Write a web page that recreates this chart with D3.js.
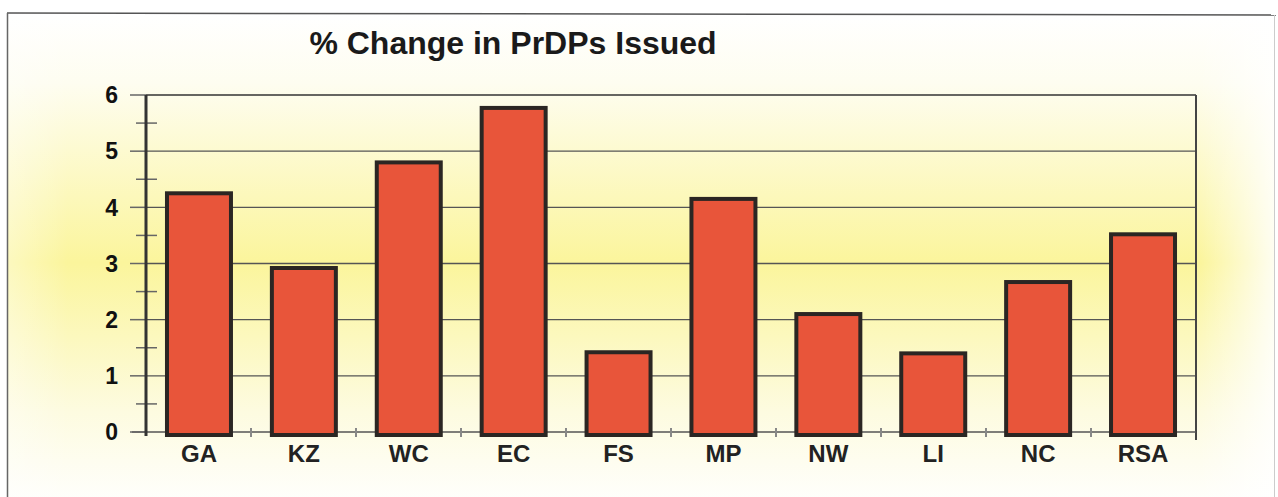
<!DOCTYPE html>
<html><head><meta charset="utf-8">
<script src="https://cdn.jsdelivr.net/npm/d3@7"></script>
<style>body{margin:0;background:#fff}svg{display:block}</style>
</head><body>
<svg id="c" width="1278" height="497"></svg>
<script>
const categories = ["GA","KZ","WC","EC","FS","MP","NW","LI","NC","RSA"];
const values = [4.25, 2.92, 4.8, 5.77, 1.42, 4.15, 2.1, 1.4, 2.67, 3.52];
const yTicks = [0,1,2,3,4,5,6];
const title = "% Change in PrDPs Issued";

const svg = d3.select("#c");
const W = 1278, H = 497;
const m = {left:146, right:1196, top:95, bottom:432};
const FONT = "'Liberation Sans', Arial, sans-serif";
const defs = svg.append("defs");
const g1 = defs.append("linearGradient").attr("id","bg").attr("x1",0).attr("y1",0).attr("x2",0).attr("y2",1);
g1.append("stop").attr("offset","0%").attr("stop-color","#ffffff");
g1.append("stop").attr("offset","14%").attr("stop-color","#fefdf0");
g1.append("stop").attr("offset","50%").attr("stop-color","#fbf59c");
g1.append("stop").attr("offset","80%").attr("stop-color","#fdfbe0");
g1.append("stop").attr("offset","100%").attr("stop-color","#ffffff");
const g2 = defs.append("linearGradient").attr("id","fadeR").attr("x1",0).attr("y1",0).attr("x2",1).attr("y2",0);
g2.append("stop").attr("offset","0%").attr("stop-color","#fff").attr("stop-opacity",0);
g2.append("stop").attr("offset","100%").attr("stop-color","#fff").attr("stop-opacity",0.85);
const g3 = defs.append("linearGradient").attr("id","fadeL").attr("x1",0).attr("y1",0).attr("x2",1).attr("y2",0);
g3.append("stop").attr("offset","0%").attr("stop-color","#fff").attr("stop-opacity",0.35);
g3.append("stop").attr("offset","100%").attr("stop-color","#fff").attr("stop-opacity",0);

svg.append("rect").attr("x",0).attr("y",0).attr("width",W).attr("height",H).attr("fill","#fff");
svg.append("rect").attr("x",8).attr("y",14).attr("width",1266).attr("height",H).attr("fill","url(#bg)");
svg.append("rect").attr("x",1200).attr("y",14).attr("width",74).attr("height",H).attr("fill","url(#fadeR)");
svg.append("rect").attr("x",8).attr("y",14).attr("width",60).attr("height",H).attr("fill","url(#fadeL)");
// frame
svg.append("line").attr("x1",7).attr("x2",1276).attr("y1",13).attr("y2",15).attr("stroke","#555").attr("stroke-width",1.5);
svg.append("line").attr("x1",7.5).attr("x2",7.5).attr("y1",13).attr("y2",H).attr("stroke","#666").attr("stroke-width",1.5);
svg.append("line").attr("x1",1274.5).attr("x2",1274.5).attr("y1",15).attr("y2",H).attr("stroke","#ccc").attr("stroke-width",1);

const x = d3.scaleBand().domain(categories).range([m.left, m.right]).paddingInner(0.39).paddingOuter(0.2);
const xb = d3.scaleBand().domain(categories).range([m.left, m.right]);
const y = d3.scaleLinear().domain([0,6]).range([m.bottom, m.top]);

// gridlines
svg.append("g").selectAll("line").data(yTicks.filter(d=>d>0)).join("line")
  .attr("x1",m.left).attr("x2",m.right).attr("y1",d=>y(d)).attr("y2",d=>y(d))
  .attr("stroke",d=>d===6?"#333":"#555").attr("stroke-width",d=>d===6?1.5:1.4);
// right border of plot
svg.append("line").attr("x1",m.right).attr("x2",m.right).attr("y1",m.top).attr("y2",m.bottom+8)
  .attr("stroke","#444").attr("stroke-width",2);
// baseline
svg.append("line").attr("x1",m.left-14).attr("x2",m.right).attr("y1",y(0)).attr("y2",y(0)).attr("stroke","#555").attr("stroke-width",1.5);
// category ticks
svg.append("g").selectAll("line").data(categories.slice(1)).join("line")
  .attr("x1",d=>xb(d)).attr("x2",d=>xb(d)).attr("y1",y(0)-4).attr("y2",y(0)+5)
  .attr("stroke","#888").attr("stroke-width",2);

// bars
svg.append("g").selectAll("rect").data(values).join("rect")
  .attr("x",(d,i)=>x(categories[i])).attr("width",x.bandwidth())
  .attr("y",d=>y(d)).attr("height",d=>y(0)-y(d)+3)
  .attr("fill","#e8553a").attr("stroke","#2b2623").attr("stroke-width",4);

// y axis
const minor = d3.range(0.5,6,1);
svg.append("g").selectAll("line").data(minor).join("line")
  .attr("x1",m.left-10).attr("x2",m.left+11).attr("y1",d=>y(d)).attr("y2",d=>y(d))
  .attr("stroke","#666").attr("stroke-width",1.5);
svg.append("g").selectAll("line").data(yTicks).join("line")
  .attr("x1",m.left-16).attr("x2",m.left).attr("y1",d=>y(d)).attr("y2",d=>y(d))
  .attr("stroke","#666").attr("stroke-width",1.5);
svg.append("line").attr("x1",m.left).attr("x2",m.left).attr("y1",m.top).attr("y2",m.bottom+4)
  .attr("stroke","#333").attr("stroke-width",3);
svg.append("g").selectAll("text").data(yTicks).join("text")
  .attr("x",118).attr("y",d=>y(d)).attr("dy","0.36em").attr("text-anchor","end")
  .attr("font-family",FONT).attr("font-weight","bold").attr("font-size",23)
  .attr("fill","#111").text(d=>d);

// x labels
svg.append("g").selectAll("text").data(categories).join("text")
  .attr("x",d=>x(d)+x.bandwidth()/2).attr("y",462).attr("text-anchor","middle")
  .attr("font-family",FONT).attr("font-weight","bold").attr("font-size",24)
  .attr("fill","#222").text(d=>d);

// title
svg.append("text").attr("x",513).attr("y",54).attr("text-anchor","middle")
  .attr("font-family",FONT).attr("font-weight","bold").attr("font-size",32)
  .attr("fill","#1a1a1a").text(title);
</script>
</body></html>
